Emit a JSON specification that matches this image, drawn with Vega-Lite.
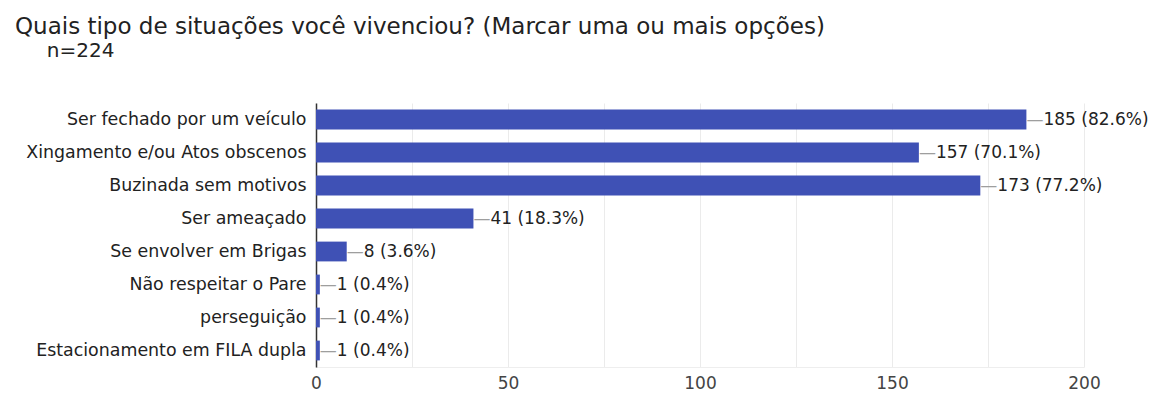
{
  "$schema": "https://vega.github.io/schema/vega-lite/v6.json",
  "autosize": {"type": "none"},
  "width": 768,
  "height": 264,
  "padding": {"left": 316, "top": 103, "right": 77, "bottom": 43},
  "background": "white",
  "title": {
    "text": "Quais tipo de situações você vivenciou? (Marcar uma ou mais opções)",
    "subtitle": "\u200b\u2007\u2007\u00a0n=224",
    "anchor": "start",
    "frame": "group",
    "dx": -301,
    "offset": 42,
    "font": "DejaVu Sans",
    "fontSize": 23,
    "fontWeight": "normal",
    "color": "#222222",
    "subtitleFont": "DejaVu Sans",
    "subtitleFontSize": 20,
    "subtitleColor": "#222222",
    "subtitlePadding": 2
  },
  "data": {
    "values": [
      {"situacao": "Ser fechado por um veículo", "count": 185, "label": "185 (82.6%)"},
      {"situacao": "Xingamento e/ou Atos obscenos", "count": 157, "label": "157 (70.1%)"},
      {"situacao": "Buzinada sem motivos", "count": 173, "label": "173 (77.2%)"},
      {"situacao": "Ser ameaçado", "count": 41, "label": "41 (18.3%)"},
      {"situacao": "Se envolver em Brigas", "count": 8, "label": "8 (3.6%)"},
      {"situacao": "Não respeitar o Pare", "count": 1, "label": "1 (0.4%)"},
      {"situacao": "perseguição", "count": 1, "label": "1 (0.4%)"},
      {"situacao": "Estacionamento em FILA dupla", "count": 1, "label": "1 (0.4%)"}
    ]
  },
  "encoding": {
    "y": {
      "field": "situacao",
      "type": "nominal",
      "sort": null,
      "scale": {"paddingInner": 0.4, "paddingOuter": 0.2},
      "axis": {
        "title": null,
        "ticks": false,
        "domain": true,
        "domainColor": "#333333",
        "domainWidth": 1.5,
        "labelFont": "DejaVu Sans",
        "labelFontSize": 17.4,
        "labelColor": "#222222",
        "labelPadding": 10,
        "labelLimit": 400
      }
    },
    "x": {
      "field": "count",
      "type": "quantitative",
      "scale": {"domain": [0, 200], "nice": false},
      "axis": {
        "title": null,
        "values": [0, 25, 50, 75, 100, 125, 150, 175, 200],
        "labelExpr": "datum.value % 50 == 0 ? datum.label : ''",
        "labelFlush": false,
        "ticks": false,
        "domain": true,
        "domainColor": "#eeeeee",
        "grid": true,
        "gridColor": "#ebebeb",
        "labelFont": "DejaVu Sans",
        "labelFontSize": 17,
        "labelColor": "#444444",
        "labelPadding": 8
      }
    }
  },
  "layer": [
    {"mark": {"type": "bar", "color": "#3f51b5"}},
    {
      "mark": {"type": "text", "align": "left", "baseline": "middle", "font": "DejaVu Sans", "fontSize": 17, "color": "#9e9e9e", "dx": 0},
      "encoding": {"text": {"value": "—"}}
    },
    {
      "mark": {"type": "text", "align": "left", "baseline": "middle", "font": "DejaVu Sans", "fontSize": 17, "color": "#222222", "dx": 17},
      "encoding": {"text": {"field": "label"}}
    }
  ],
  "config": {"view": {"stroke": null}}
}
